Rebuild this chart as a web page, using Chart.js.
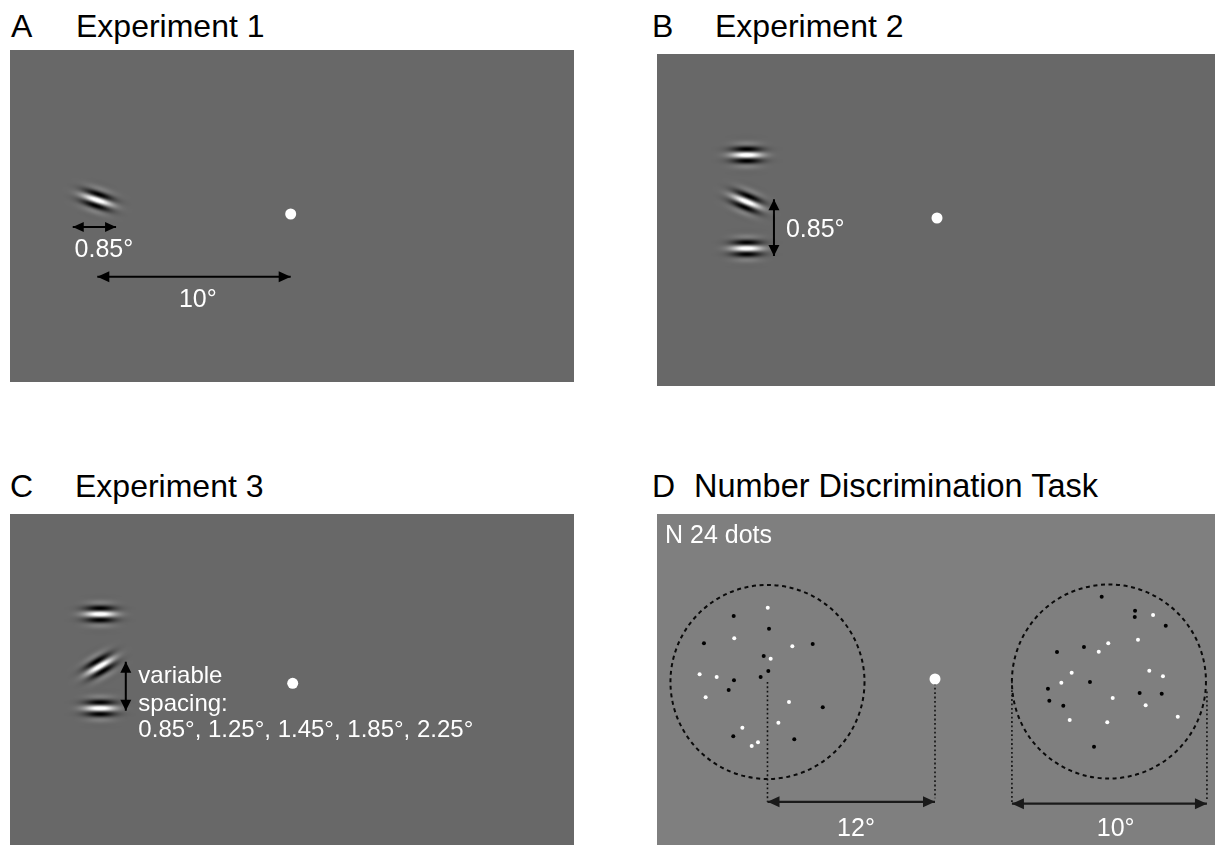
<!DOCTYPE html>
<html>
<head>
<meta charset="utf-8">
<script src="https://cdn.jsdelivr.net/npm/chart.js@4.4.1/dist/chart.umd.min.js"></script>
<style>
  html, body { margin: 0; padding: 0; background: #ffffff; width: 1215px; height: 845px; overflow: hidden; }
  .panel { position: absolute; display: block; }
  .title { position: absolute; font-family: "Liberation Sans", Arial, Helvetica, sans-serif;
           font-size: 32px; line-height: 32px; color: #000; white-space: pre; }
</style>
</head>
<body>
<div class="title" style="left:11px;top:10px">A</div>
<div class="title" style="left:76px;top:10px">Experiment 1</div>
<div class="title" style="left:652px;top:10px">B</div>
<div class="title" style="left:715px;top:10px">Experiment 2</div>
<div class="title" style="left:10px;top:470px">C</div>
<div class="title" style="left:75px;top:470px">Experiment 3</div>
<div class="title" style="left:652px;top:470px">D</div>
<div class="title" style="left:694px;top:470px;font-size:32.5px">Number Discrimination Task</div>

<canvas id="panelA" class="panel" style="left:10px;top:50px;width:564px;height:332px" width="564" height="332"></canvas>
<canvas id="panelB" class="panel" style="left:657px;top:54px;width:558px;height:332px" width="558" height="332"></canvas>
<canvas id="panelC" class="panel" style="left:10px;top:514px;width:564px;height:331px" width="564" height="331"></canvas>
<canvas id="panelD" class="panel" style="left:657px;top:514px;width:558px;height:331px" width="558" height="331"></canvas>

<script>
// All stimulus positions are in degrees of visual angle, fixation at (0, 0), y up.

// Experiment 1: single tilted target
const exp1TargetX = [-10.0];
const exp1TargetY = [0.72];
const exp1TargetTilt = [18];
const exp1Eccentricity = 10;
const exp1TargetSize = 0.85;

// Experiment 2: target with two horizontal flankers
const exp2StimX = [-9.84, -9.84, -9.84];
const exp2StimY = [3.26, 0.84, -1.57];
const exp2StimTilt = [0, 22, 0];
const exp2Spacing = 0.85;

// Experiment 3: flanker spacing varies across blocks
const exp3StimX = [-9.96, -9.96, -9.96];
const exp3StimY = [3.58, 0.89, -1.29];
const exp3StimTilt = [0, -30, 0];
const exp3Spacings = [0.85, 1.25, 1.45, 1.85, 2.25];

// Number discrimination: two dot patches
const ndReferenceCount = 24;
const ndPatchX = [-12.0, 12.46];
const ndPatchY = [-0.21, -0.18];
const ndPatchR = [6.95, 6.95];
const ndEccentricity = 12;
const ndPatchWidth = 10;

const ndLeftWhiteX = [-11.98, -14.38, -10.22, -11.77, -16.86, -15.64, -16.43, -10.46, -11.22, -13.80, -12.68, -13.13];
const ndLeftWhiteY = [5.11, 2.92, 2.34, 1.45, 0.34, 0.14, -1.31, -1.65, -3.13, -3.49, -4.53, -4.80];
const ndLeftBlackX = [-14.42, -11.89, -16.55, -8.76, -12.27, -11.94, -12.49, -14.40, -14.78, -8.04, -14.45, -10.08];
const ndLeftBlackY = [4.51, 3.60, 2.56, 2.51, 1.65, 0.57, 0.14, -0.09, -0.79, -2.03, -4.10, -4.32];

const ndRightWhiteX = [15.62, 12.41, 14.54, 11.73, 9.79, 9.05, 15.35, 16.33, 12.73, 15.09, 17.39, 9.65, 12.34];
const ndRightWhiteY = [4.58, 2.56, 2.82, 1.96, 0.45, -0.27, 0.59, 0.19, -1.36, -1.88, -2.70, -2.94, -3.10];
const ndRightBlackX = [11.94, 14.33, 14.31, 16.53, 8.74, 10.67, 11.10, 8.09, 8.19, 9.19, 14.66, 16.24, 11.39];
const ndRightBlackY = [5.90, 4.89, 4.44, 3.82, 1.93, 2.29, -0.21, -0.69, -1.55, -1.91, -1.00, -1.05, -4.85];

// ---------------------------------------------------------------------------
const FONT = '"Liberation Sans", Arial, Helvetica, sans-serif';
const pts = (xs, ys) => xs.map((x, i) => ({ x, y: ys[i] }));
const deg = v => `${v}°`;

// Gabor patch rendered once as a translucent sprite (horizontal carrier)
function makeGabor(bg) {
  const S = 72;
  const c = document.createElement('canvas');
  c.width = S; c.height = S;
  const g = c.getContext('2d');
  const img = g.createImageData(S, S);
  const sx = 10.5, sy = 6.2, lambda = 13, amp = 175;
  for (let j = 0; j < S; j++) {
    for (let i = 0; i < S; i++) {
      const dx = i - S / 2 + 0.5, dy = j - S / 2 + 0.5;
      const env = Math.exp(-(dx * dx) / (2 * sx * sx) - (dy * dy) / (2 * sy * sy));
      const v = amp * env * Math.cos(2 * Math.PI * dy / lambda);
      let lum, a;
      if (v >= 0) { lum = 255; a = Math.min(1, v / (255 - bg)); }
      else { lum = 0; a = Math.min(1, -v / bg); }
      const k = (j * S + i) * 4;
      img.data[k] = lum; img.data[k + 1] = lum; img.data[k + 2] = lum;
      img.data[k + 3] = Math.round(a * 255);
    }
  }
  g.putImageData(img, 0, 0);
  return c;
}
const gabor = makeGabor(104);

// Visible window of each panel, in degrees
function frame(w, h, fx, fy, ppd) {
  return {
    x: { type: 'linear', display: false, min: -fx / ppd, max: (w - fx) / ppd },
    y: { type: 'linear', display: false, min: -(h - fy) / ppd, max: fy / ppd }
  };
}

const backdrop = color => ({
  id: 'backdrop',
  beforeDraw(chart) {
    const ctx = chart.ctx;
    ctx.save();
    ctx.fillStyle = color;
    ctx.fillRect(0, 0, chart.width, chart.height);
    ctx.restore();
  }
});

function head(ctx, x, y, ang, len, half, color) {
  ctx.save();
  ctx.translate(x, y);
  ctx.rotate(ang);
  ctx.beginPath();
  ctx.moveTo(0, 0);
  ctx.lineTo(-len, -half);
  ctx.lineTo(-len, half);
  ctx.closePath();
  ctx.fillStyle = color;
  ctx.fill();
  ctx.restore();
}

// Double arrowheads on every dataset flagged as an arrow
const arrowHeads = {
  id: 'arrowHeads',
  afterDatasetsDraw(chart) {
    const ctx = chart.ctx;
    chart.data.datasets.forEach((ds, i) => {
      if (!ds.arrow) return;
      const p = chart.getDatasetMeta(i).data;
      if (p.length < 2) return;
      const a = p[0], b = p[p.length - 1];
      head(ctx, b.x, b.y, Math.atan2(b.y - a.y, b.x - a.x), ds.headLen, ds.headHalf, ds.borderColor);
      head(ctx, a.x, a.y, Math.atan2(a.y - b.y, a.x - b.x), ds.headLen, ds.headHalf, ds.borderColor);
    });
  }
};

const textLayer = items => ({
  id: 'textLayer',
  afterDatasetsDraw(chart) {
    const { ctx, scales } = chart;
    ctx.save();
    items.forEach(t => {
      ctx.font = `${t.size || 25}px ${FONT}`;
      ctx.fillStyle = t.color || '#ffffff';
      ctx.textAlign = t.align || 'left';
      ctx.textBaseline = 'alphabetic';
      ctx.fillText(t.text, scales.x.getPixelForValue(t.x), scales.y.getPixelForValue(t.y));
    });
    ctx.restore();
  }
});

// Dashed outlines of the dot patches
const patchRings = {
  id: 'patchRings',
  beforeDatasetsDraw(chart) {
    const { ctx, scales: { x, y } } = chart;
    ctx.save();
    ctx.strokeStyle = '#0a0a0a';
    ctx.lineWidth = 2;
    ctx.setLineDash([4, 3.6]);
    ndPatchX.forEach((cx, i) => {
      const px = x.getPixelForValue(cx), py = y.getPixelForValue(ndPatchY[i]);
      const r = x.getPixelForValue(cx + ndPatchR[i]) - px;
      ctx.beginPath();
      ctx.arc(px, py, r, 0, Math.PI * 2);
      ctx.stroke();
    });
    ctx.restore();
  }
};

const gaborSet = (xs, ys, tilts) => ({
  data: pts(xs, ys),
  pointStyle: gabor,
  pointRadius: 12,
  pointRotation: ctx => tilts[ctx.dataIndex],
  showLine: false
});
const fixation = () => ({
  data: [{ x: 0, y: 0 }],
  pointStyle: 'circle',
  pointRadius: 5.5,
  pointBackgroundColor: '#ffffff',
  pointBorderWidth: 0,
  showLine: false
});
const arrowSet = (x0, y0, x1, y1, color, width, len, half) => ({
  data: [{ x: x0, y: y0 }, { x: x1, y: y1 }],
  showLine: true,
  borderColor: color,
  borderWidth: width,
  pointRadius: 0,
  arrow: true,
  headLen: len,
  headHalf: half
});
const guideSet = (x0, y0, x1, y1) => ({
  data: [{ x: x0, y: y0 }, { x: x1, y: y1 }],
  showLine: true,
  borderColor: '#111111',
  borderWidth: 1.6,
  borderDash: [1.8, 2.6],
  pointRadius: 0
});
const dotSet = (xs, ys, color) => ({
  data: pts(xs, ys),
  pointStyle: 'circle',
  pointRadius: 2,
  pointBackgroundColor: color,
  pointBorderWidth: 0,
  showLine: false
});

function panel(id, scales, datasets, plugins) {
  return new Chart(document.getElementById(id), {
    type: 'scatter',
    data: { datasets },
    options: {
      responsive: false,
      maintainAspectRatio: false,
      animation: false,
      events: [],
      layout: { padding: 0, autoPadding: false },
      scales,
      plugins: { legend: { display: false }, tooltip: { enabled: false } }
    },
    plugins
  });
}

const GREY = '#686868';
const PPD = 19.34;

// A
panel('panelA', frame(564, 332, 280.7, 164, PPD), [
  gaborSet(exp1TargetX, exp1TargetY, exp1TargetTilt),
  fixation(),
  arrowSet(-11.27, -0.67, -9.03, -0.67, '#000000', 2, 11, 5),
  arrowSet(exp1TargetX[0], -3.24, 0, -3.24, '#000000', 2, 12, 5.5)
], [backdrop(GREY), arrowHeads, textLayer([
  { text: deg(exp1TargetSize), x: -9.66, y: -2.24, align: 'center' },
  { text: deg(exp1Eccentricity), x: -4.8, y: -4.81, align: 'center' }
])]);

// B
panel('panelB', frame(558, 332, 280, 164, PPD), [
  gaborSet(exp2StimX, exp2StimY, exp2StimTilt),
  fixation(),
  arrowSet(-8.43, 0.97, -8.43, -1.96, '#000000', 2, 11, 5.5)
], [backdrop(GREY), arrowHeads, textLayer([
  { text: deg(exp2Spacing), x: -7.81, y: -1.0 }
])]);

// C
panel('panelC', frame(564, 331, 282.7, 169.3, PPD), [
  gaborSet(exp3StimX, exp3StimY, exp3StimTilt),
  fixation(),
  arrowSet(-8.63, 1.12, -8.63, -1.42, '#000000', 2, 11, 5.5)
], [backdrop(GREY), arrowHeads, textLayer([
  { text: 'variable', x: -7.98, y: -0.01, size: 24 },
  { text: 'spacing:', x: -7.98, y: -1.41, size: 24 },
  { text: exp3Spacings.map(v => deg(v.toFixed(2))).join(', '), x: -7.98, y: -2.80, size: 24 }
])]);

// D
const PPD_D = 13.96;
panel('panelD', frame(558, 331, 278, 165, PPD_D), [
  dotSet(ndLeftBlackX, ndLeftBlackY, '#000000'),
  dotSet(ndLeftWhiteX, ndLeftWhiteY, '#ffffff'),
  dotSet(ndRightBlackX, ndRightBlackY, '#000000'),
  dotSet(ndRightWhiteX, ndRightWhiteY, '#ffffff'),
  fixation(),
  guideSet(ndPatchX[0], ndPatchY[0], ndPatchX[0], -8.8),
  guideSet(0, 0, 0, -8.55),
  guideSet(ndPatchX[1] - ndPatchR[1], ndPatchY[1], ndPatchX[1] - ndPatchR[1], -8.93),
  guideSet(ndPatchX[1] + ndPatchR[1] + 0.07, -0.9, ndPatchX[1] + ndPatchR[1] + 0.07, -8.6),
  arrowSet(-ndEccentricity, -8.8, 0, -8.8, '#1a1a1a', 2.4, 12, 5.5),
  arrowSet(ndPatchX[1] - ndPatchR[1], -8.93, ndPatchX[1] + ndPatchR[1] + 0.07, -8.93, '#1a1a1a', 2.4, 12, 5.5)
], [backdrop('#7f7f7f'), patchRings, arrowHeads, textLayer([
  { text: `N ${ndReferenceCount} dots`, x: -19.34, y: 9.74 },
  { text: deg(ndEccentricity), x: -5.66, y: -11.25, align: 'center' },
  { text: deg(ndPatchWidth), x: 12.94, y: -11.25, align: 'center' }
])]);
</script>
</body>
</html>
